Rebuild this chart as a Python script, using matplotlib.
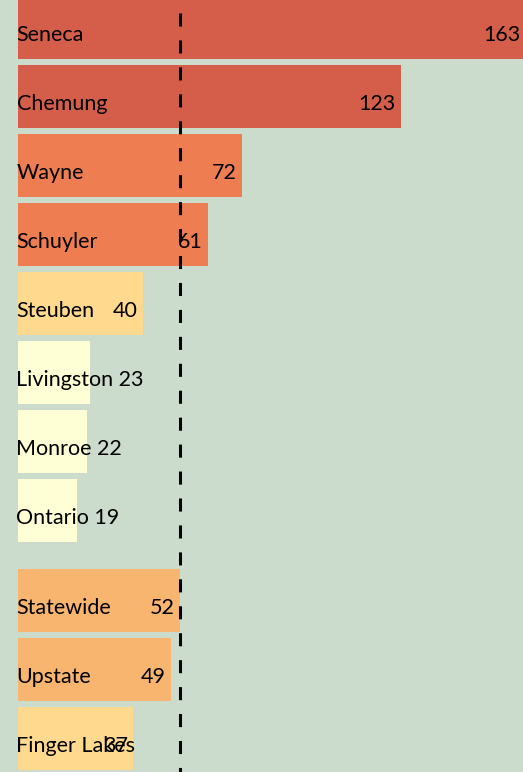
import matplotlib
matplotlib.use("Agg")
import matplotlib.pyplot as plt

plt.rcParams['font.family'] = ['Lato', 'DejaVu Sans']
plt.rcParams['lines.scale_dashes'] = False

# counties first, then the comparison groups below a small gap
counties = ["Seneca", "Chemung", "Wayne", "Schuyler", "Steuben",
            "Livingston", "Monroe", "Ontario"]
county_values = [163, 123, 72, 61, 40, 23, 22, 19]
county_colors = ["#d55e4b", "#d55e4b", "#ef7d52", "#ef7d52", "#fed98e",
                 "#ffffd6", "#ffffd6", "#ffffd6"]

groups = ["Statewide", "Upstate", "Finger Lakes"]
group_values = [52, 49, 37]
group_colors = ["#f7b56f", "#f7b56f", "#fed98e"]

statewide = 52
bg = "#ccdccc"
small_bar = 30   # below this the number goes right after the name

names = counties + groups
values = county_values + group_values
colors = county_colors + group_colors
gap = 0.304
ypos = list(range(len(counties))) + [len(counties) + gap + i for i in range(len(groups))]

fig = plt.figure(figsize=(5.23, 7.72), dpi=100, facecolor=bg)
ax = fig.add_axes([0, 0, 1, 1])
ax.set_facecolor(bg)

ax.barh(ypos, values, height=0.913, color=colors, linewidth=0, zorder=1)

px = 1 / 3.114   # data units per pixel along x
base = 0.2       # text baseline sits a bit below the bar centre
for y, name, v in zip(ypos, names, values):
    if v < small_bar:
        ax.text(-1.5 * px, y + base, f"{name} {v}", ha='left', va='baseline',
                fontsize=15.5, color='black', zorder=3)
    else:
        ax.text(-1.5 * px, y + base, name, ha='left', va='baseline',
                fontsize=15.5, color='black', zorder=3)
        ax.text(v - 5 * px, y + base, str(v), ha='right', va='baseline',
                fontsize=15.5, color='black', zorder=3)

ax.plot([statewide, statewide], [-0.21, 10.8], color='black', linewidth=2.2,
        linestyle=(0, (9.4, 10.0)), zorder=2)

ax.set_xlim(-18 * px, 505 * px)
ax.set_ylim(10.79, -0.3986)
ax.axis('off')

fig.savefig("out.png", dpi=100, facecolor=bg)
